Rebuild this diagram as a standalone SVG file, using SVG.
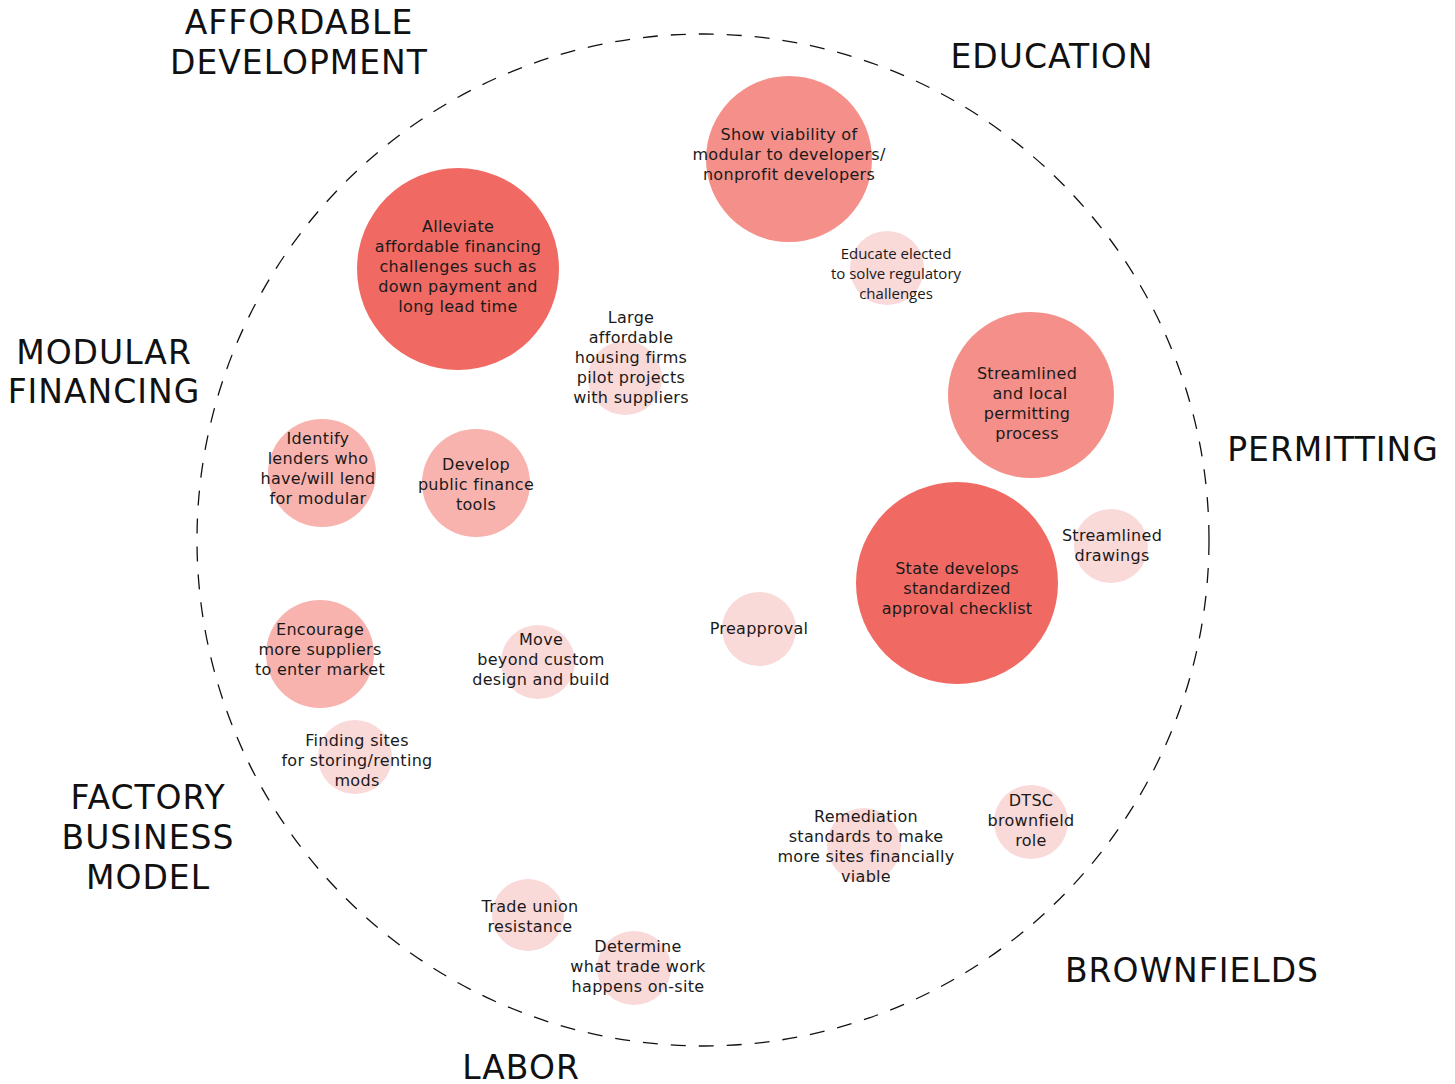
<svg xmlns="http://www.w3.org/2000/svg" width="1455" height="1084" viewBox="0 0 1455 1084">
<style>
.c1{fill:#F06A63}
.c2{fill:#F48F89}
.c3{fill:#F8B3AF}
.c4{fill:#FAD9D9}
.t{font-family:"DejaVu Sans",sans-serif;font-size:16px;letter-spacing:0.3px;fill:#1a1a1a;text-anchor:middle}
.ts{font-family:"Open Sans",sans-serif;font-size:15px;fill:#1a1a1a;text-anchor:middle}
.h{font-family:"DejaVu Sans",sans-serif;font-size:33px;letter-spacing:1px;fill:#111;text-anchor:middle}
</style>
<rect width="1455" height="1084" fill="#fff"/>
<g id="connectors">
<circle cx="703" cy="540" r="506" fill="none" stroke="#111" stroke-width="1.3" stroke-dasharray="15 13"/>
</g>
<g id="n-show"><circle class="c2" cx="789" cy="159" r="83"/><text class="t" x="789" y="140">Show viability of</text><text class="t" x="789" y="160">modular to developers/</text><text class="t" x="789" y="180">nonprofit developers</text></g>
<g id="n-educate"><circle class="c4" cx="887" cy="268" r="37"/><text class="ts" x="896" y="259">Educate elected</text><text class="ts" x="896" y="279">to solve regulatory</text><text class="ts" x="896" y="299">challenges</text></g>
<g id="n-alleviate"><circle class="c1" cx="458" cy="269" r="101"/><text class="t" x="458" y="232">Alleviate</text><text class="t" x="458" y="252">affordable financing</text><text class="t" x="458" y="272">challenges such as</text><text class="t" x="458" y="292">down payment and</text><text class="t" x="458" y="312">long lead time</text></g>
<g id="n-large"><circle class="c4" cx="625" cy="378" r="37"/><text class="t" x="631" y="323">Large</text><text class="t" x="631" y="343">affordable</text><text class="t" x="631" y="363">housing firms</text><text class="t" x="631" y="383">pilot projects</text><text class="t" x="631" y="403">with suppliers</text></g>
<g id="n-identify"><circle class="c3" cx="322" cy="473" r="54"/><text class="t" x="318" y="444">Identify</text><text class="t" x="318" y="464">lenders who</text><text class="t" x="318" y="484">have/will lend</text><text class="t" x="318" y="504">for modular</text></g>
<g id="n-develop"><circle class="c3" cx="476" cy="483" r="54"/><text class="t" x="476" y="470">Develop</text><text class="t" x="476" y="490">public finance</text><text class="t" x="476" y="510">tools</text></g>
<g id="n-permit"><circle class="c2" cx="1031" cy="395" r="83"/><text class="t" x="1027" y="379">Streamlined</text><text class="t" x="1030" y="399">and local</text><text class="t" x="1027" y="419">permitting</text><text class="t" x="1027" y="439">process</text></g>
<g id="n-state"><circle class="c1" cx="957" cy="583" r="101"/><text class="t" x="957" y="574">State develops</text><text class="t" x="957" y="594">standardized</text><text class="t" x="957" y="614">approval checklist</text></g>
<g id="n-drawings"><circle class="c4" cx="1111" cy="546" r="37"/><text class="t" x="1112" y="541">Streamlined</text><text class="t" x="1112" y="561">drawings</text></g>
<g id="n-preapproval"><circle class="c4" cx="759" cy="629" r="37"/><text class="t" x="759" y="634">Preapproval</text></g>
<g id="n-encourage"><circle class="c3" cx="320" cy="654" r="54"/><text class="t" x="320" y="635">Encourage</text><text class="t" x="320" y="655">more suppliers</text><text class="t" x="320" y="675">to enter market</text></g>
<g id="n-move"><circle class="c4" cx="538" cy="662" r="37"/><text class="t" x="541" y="645">Move</text><text class="t" x="541" y="665">beyond custom</text><text class="t" x="541" y="685">design and build</text></g>
<g id="n-finding"><circle class="c4" cx="355" cy="757" r="37"/><text class="t" x="357" y="746">Finding sites</text><text class="t" x="357" y="766">for storing/renting</text><text class="t" x="357" y="786">mods</text></g>
<g id="n-remediation"><circle class="c4" cx="864" cy="845" r="37"/><text class="t" x="866" y="822">Remediation</text><text class="t" x="866" y="842">standards to make</text><text class="t" x="866" y="862">more sites financially</text><text class="t" x="866" y="882">viable</text></g>
<g id="n-dtsc"><circle class="c4" cx="1031" cy="822" r="37"/><text class="t" x="1031" y="806">DTSC</text><text class="t" x="1031" y="826">brownfield</text><text class="t" x="1031" y="846">role</text></g>
<g id="n-trade"><circle class="c4" cx="528" cy="915" r="36"/><text class="t" x="530" y="912">Trade union</text><text class="t" x="530" y="932">resistance</text></g>
<g id="n-determine"><circle class="c4" cx="634" cy="968" r="37"/><text class="t" x="638" y="952">Determine</text><text class="t" x="638" y="972">what trade work</text><text class="t" x="638" y="992">happens on-site</text></g>
<g id="labels">
<text class="h" x="299" y="34">AFFORDABLE</text><text class="h" x="299" y="74">DEVELOPMENT</text>
<text class="h" x="1052" y="68">EDUCATION</text>
<text class="h" x="104" y="364">MODULAR</text><text class="h" x="104" y="403">FINANCING</text>
<text class="h" x="1333" y="461">PERMITTING</text>
<text class="h" x="148" y="809">FACTORY</text><text class="h" x="148" y="849">BUSINESS</text><text class="h" x="148" y="889">MODEL</text>
<text class="h" x="1192" y="982">BROWNFIELDS</text>
<text class="h" x="521" y="1079">LABOR</text>
</g>
</svg>
